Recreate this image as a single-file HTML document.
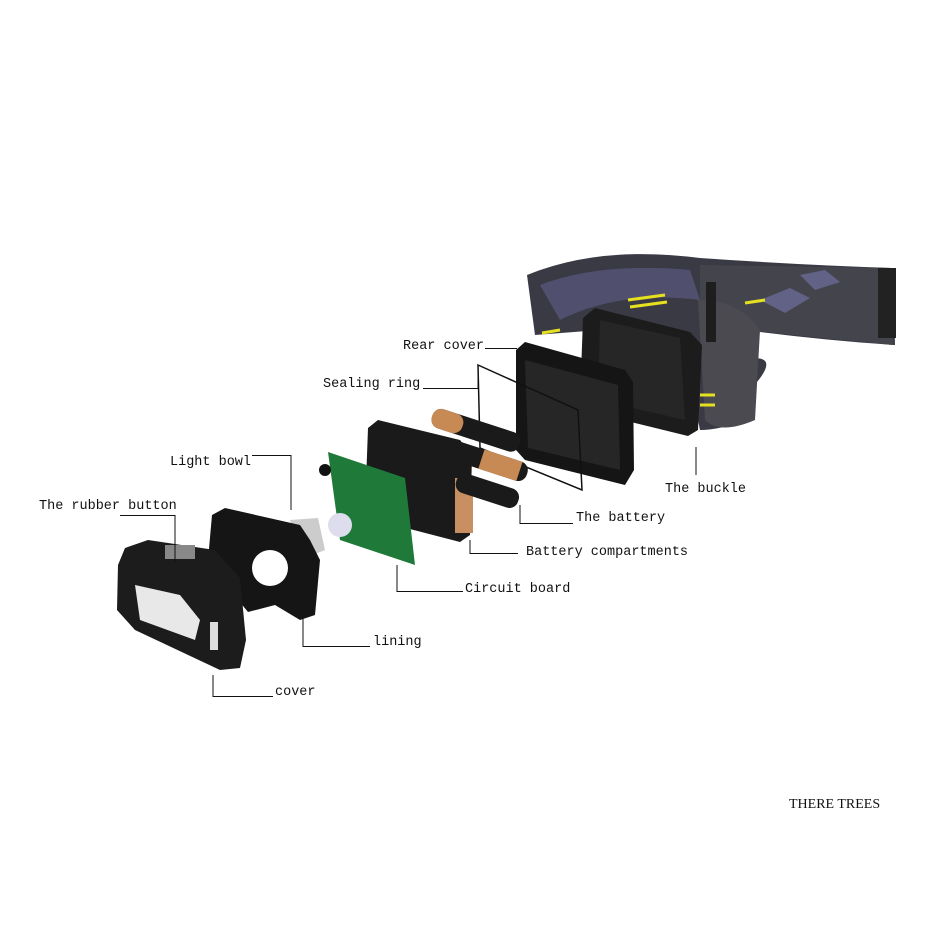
<!DOCTYPE html>
<html><head><style>
html,body{margin:0;padding:0;background:#fff;}
svg{display:block}
.l{font-family:"Liberation Mono",monospace;font-size:13.5px;fill:#111}
</style></head><body>
<svg width="948" height="948" viewBox="0 0 948 948" xmlns="http://www.w3.org/2000/svg">
<rect width="948" height="948" fill="#fff"/>
<!-- headband -->
<path d="M527,275 Q600,245 700,258 Q800,265 893,268 L895,345 Q820,340 745,330 L740,360 Q790,350 745,395 L745,420 Q720,430 700,430 L690,380 Q620,340 600,330 L535,335 Z" fill="#3a3a44"/>
<path d="M540,285 Q600,262 690,270 L700,300 Q620,290 560,320 Z" fill="#5a5a80" opacity=".7"/>
<path d="M700,265 L893,268 L893,345 L745,330 Q720,300 700,300 Z" fill="#44444c"/>
<path d="M760,300 l30,-12 l20,10 l-25,15z M800,275 l25,-5 l15,12 l-25,8z" fill="#6a6a96" opacity=".8"/>
<path d="M698,300 Q740,300 760,330 L755,420 Q720,435 705,420 Z" fill="#4a4a50"/>
<rect x="878" y="268" width="18" height="70" fill="#222"/>
<rect x="706" y="282" width="10" height="60" fill="#1e1e1e"/>
<g stroke="#e5e020" stroke-width="3"><line x1="628" y1="300" x2="665" y2="295"/><line x1="630" y1="307" x2="667" y2="302"/><line x1="745" y1="303" x2="765" y2="300"/><line x1="542" y1="333" x2="560" y2="330"/><line x1="700" y1="395" x2="715" y2="395"/><line x1="700" y1="405" x2="715" y2="405"/></g>
<!-- buckle -->
<path d="M583,318 L595,308 L690,332 L702,345 L698,430 L688,436 L590,412 L580,402 Z" fill="#1c1c1c"/>
<path d="M600,320 L680,338 L685,420 L598,400 Z" fill="#262626"/>
<!-- rear cover -->
<path d="M516,350 L525,342 L625,370 L633,382 L634,470 L625,485 L525,460 L516,450 Z" fill="#151515"/>
<path d="M525,360 L618,385 L620,470 L528,448 Z" fill="#262626"/>
<!-- sealing ring -->
<path d="M478,365 L578,410 L582,490 L480,448 Z" fill="none" stroke="#111" stroke-width="1.5"/>
<!-- battery compartment -->
<path d="M368,428 L378,420 L460,440 L472,455 L470,535 L460,542 L375,520 L365,510 Z" fill="#1a1a1a"/>
<rect x="455" y="478" width="18" height="55" fill="#c89060"/>
<!-- batteries -->
<g transform="rotate(18 475 430)">
<rect x="430" y="420" width="92" height="20" rx="9" fill="#1a1a1a"/><rect x="430" y="420" width="32" height="20" rx="9" fill="#c88a55"/>
</g>
<g transform="rotate(18 490 465)">
<rect x="440" y="452" width="88" height="20" rx="9" fill="#1a1a1a"/><rect x="480" y="452" width="40" height="20" fill="#c88a55"/>
</g>
<g transform="rotate(18 485 490)">
<rect x="455" y="480" width="65" height="20" rx="9" fill="#1a1a1a"/>
</g>
<!-- circuit board -->
<path d="M328,452 L405,478 L415,565 L340,540 Z" fill="#1f7a3a"/>
<circle cx="340" cy="525" r="12" fill="#dde"/>
<circle cx="325" cy="470" r="6" fill="#111"/>
<!-- light bowl -->
<path d="M290,520 L318,518 L325,550 L300,560 Z" fill="#ccc"/>
<!-- lining -->
<path d="M212,515 L225,508 L300,525 L310,540 L320,560 L315,615 L300,620 L275,605 L248,612 L230,590 L208,560 Z" fill="#151515"/>
<circle cx="270" cy="568" r="18" fill="#fff"/>
<!-- head body -->
<path d="M125,548 L148,540 L215,550 L240,578 L246,640 L240,668 L220,670 L135,630 L117,610 L118,565 Z" fill="#1c1c1c"/>
<rect x="165" y="545" width="30" height="14" fill="#888"/>
<path d="M135,585 L180,595 L200,620 L195,640 L140,620 Z" fill="#e8e8e8"/>
<rect x="210" y="622" width="8" height="28" fill="#ddd"/>
<!-- leaders -->
<g stroke="#111" stroke-width="1" fill="none">
<polyline points="485,348.5 517,348.5"/>
<polyline points="423,388.5 478,388.5 478,370"/>
<polyline points="252,455.5 291,455.5 291,510"/>
<polyline points="120,515.5 175,515.5 175,562"/>
<polyline points="303,615 303,646.5 370,646.5"/>
<polyline points="213,675 213,696.5 273,696.5"/>
<polyline points="397,565 397,591.5 463,591.5"/>
<polyline points="470,540 470,553.5 518,553.5"/>
<polyline points="520,505 520,523.5 573,523.5"/>
<polyline points="696,447 696,475"/>
</g>
<text class="l" x="403" y="349">Rear cover</text>
<text class="l" x="323" y="387">Sealing ring</text>
<text class="l" x="170" y="465">Light bowl</text>
<text class="l" x="39" y="509">The rubber button</text>
<text class="l" x="373" y="645">lining</text>
<text class="l" x="275" y="695">cover</text>
<text class="l" x="465" y="592">Circuit board</text>
<text class="l" x="526" y="555">Battery compartments</text>
<text class="l" x="576" y="521">The battery</text>
<text class="l" x="665" y="492">The buckle</text>
<text x="789" y="808" font-family="Liberation Serif,serif" font-size="14" fill="#111">THERE TREES</text>
</svg>
</body></html>
